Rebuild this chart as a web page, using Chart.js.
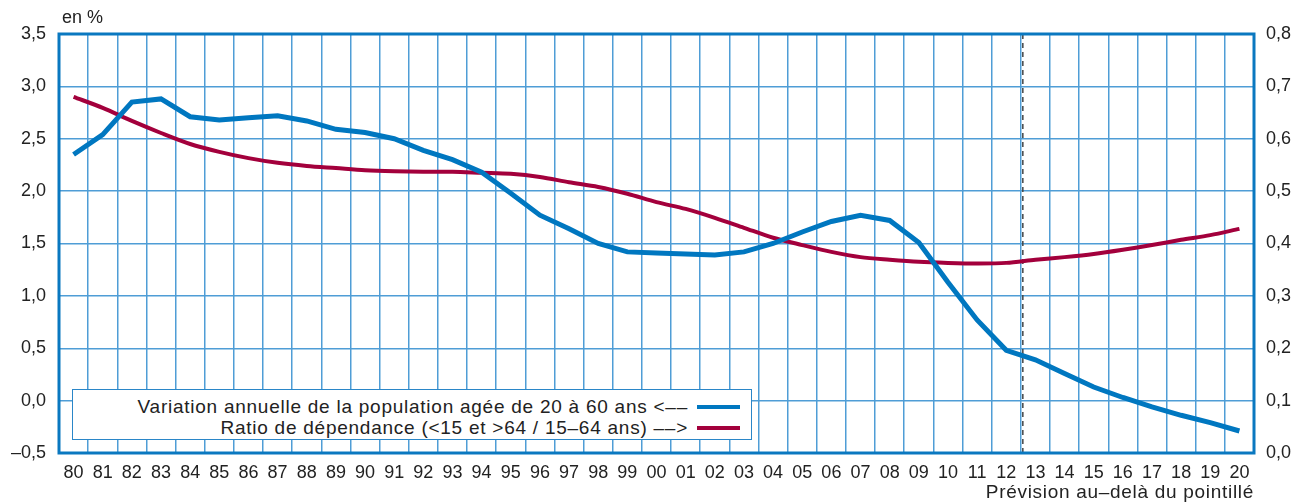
<!doctype html>
<html lang="fr">
  <head>
    <meta charset="utf-8">
    <title>Variation de la population et ratio de dépendance</title>
    <style>
      * { margin: 0; padding: 0; }
      body { background: white; font-family: "Liberation Sans", Arial, sans-serif; color: #222; }
      .wrap { position: relative; width: 1296px; height: 503px; }
      .unit { position: absolute; left: 62px; top: 7px; font-size: 18px; }
      .note { position: absolute; right: 42px; top: 481px; font-size: 19px; letter-spacing: 0.7px; }
      .legendBox {
        position: absolute; left: 72px; top: 389px; width: 678px; height: 49px;
        border: 1px solid #2a86c8; background: white;
        padding-top: 6px; box-sizing: content-box;
      }
      .legendBox .row { display: flex; justify-content: flex-end; align-items: center; height: 21px; font-size: 19px; letter-spacing: 0.75px; }
      .legendBox .swatch { width: 43px; height: 4px; margin-left: 9px; margin-right: 11px; }
    </style>
  </head>
  <body>
    <div class="wrap">
      <canvas id="myChart" width="1296" height="503"></canvas>
      <div class="unit">en %</div>
      <div class="legendBox" style="height:43px">
        <div class="row"><span>Variation annuelle de la population agée de 20 à 60 ans &lt;––</span><span class="swatch" style="background:#0077c0"></span></div>
        <div class="row"><span>Ratio de dépendance (&lt;15 et &gt;64 / 15–64 ans) ––&gt;</span><span class="swatch" style="background:#a3003c"></span></div>
      </div>
      <div class="note">Prévision au–delà du pointillé</div>
    </div>

    <script src="https://cdn.jsdelivr.net/npm/chart.js/dist/chart.umd.min.js"></script>
    <script>
    // data
    const years = ['80','81','82','83','84','85','86','87','88','89',
                   '90','91','92','93','94','95','96','97','98','99',
                   '00','01','02','03','04','05','06','07','08','09',
                   '10','11','12','13','14','15','16','17','18','19','20'];

    // variation annuelle de la population 20-60 ans, en % (axe gauche)
    const variation = [2.35, 2.54, 2.85, 2.88, 2.71, 2.68, 2.70, 2.72, 2.67, 2.59,
                       2.56, 2.50, 2.39, 2.30, 2.18, 1.98, 1.77, 1.64, 1.50, 1.42,
                       1.41, 1.40, 1.39, 1.42, 1.50, 1.61, 1.71, 1.77, 1.72, 1.51,
                       1.13, 0.77, 0.48, 0.39, 0.26, 0.13, 0.03, -0.06, -0.14, -0.21, -0.29];

    // ratio de dépendance (axe droit)
    const ratio = [0.680, 0.659, 0.634, 0.611, 0.590, 0.575, 0.563, 0.554, 0.548, 0.544,
                   0.540, 0.538, 0.537, 0.537, 0.535, 0.533, 0.527, 0.517, 0.508, 0.495,
                   0.479, 0.466, 0.449, 0.430, 0.411, 0.397, 0.384, 0.374, 0.369, 0.365,
                   0.363, 0.362, 0.363, 0.369, 0.374, 0.380, 0.388, 0.397, 0.407, 0.416, 0.428];

    const forecastAfter = '12';

    const BLUE = '#0077c0';
    const RED = '#a3003c';
    const GRID = '#4f9dd6';
    const FONT = '"Liberation Sans", Arial, sans-serif';

    const fmt = v => {
      const s = Math.abs(v).toFixed(1).replace('.', ',');
      return v < -0.001 ? '–' + s : s;
    };

    // frame + dashed forecast line
    const frame = {
      id: 'frame',
      beforeDatasetsDraw(chart) {
        const { ctx, chartArea: a, scales } = chart;
        const i = years.indexOf(forecastAfter);
        const x = (scales.x.getPixelForValue(i) + scales.x.getPixelForValue(i + 1)) / 2 + 2;
        ctx.save();
        ctx.strokeStyle = '#444';
        ctx.lineWidth = 1.5;
        ctx.setLineDash([5, 4]);
        ctx.beginPath();
        ctx.moveTo(x, a.top);
        ctx.lineTo(x, a.bottom);
        ctx.stroke();
        ctx.setLineDash([]);
        ctx.strokeStyle = '#0a78c0';
        ctx.lineWidth = 3;
        ctx.strokeRect(a.left, a.top, a.right - a.left, a.bottom - a.top);
        ctx.restore();
      }
    };

    const config = {
      type: 'line',
      data: {
        labels: years,
        datasets: [{
          label: 'Variation annuelle de la population agée de 20 à 60 ans',
          data: variation,
          borderColor: BLUE,
          borderWidth: 5,
          pointRadius: 0,
          tension: 0,
          yAxisID: 'y'
        }, {
          label: 'Ratio de dépendance (<15 et >64 / 15–64 ans)',
          data: ratio,
          borderColor: RED,
          borderWidth: 4,
          pointRadius: 0,
          tension: 0.3,
          yAxisID: 'y1'
        }]
      },
      options: {
        responsive: false,
        animation: false,
        devicePixelRatio: 1,
        layout: { padding: { top: 34 } },
        plugins: { legend: { display: false }, tooltip: { enabled: false } },
        scales: {
          x: {
            offset: true,
            grid: { offset: true, color: GRID, lineWidth: 1.5, drawTicks: false },
            border: { display: false },
            ticks: { color: '#222', font: { size: 18, family: FONT }, padding: 9, maxRotation: 0, autoSkip: false },
            afterFit: s => { s.height = 50; }
          },
          y: {
            position: 'left',
            min: -0.5, max: 3.5,
            grid: { color: GRID, lineWidth: 1.5, drawTicks: false },
            border: { display: false },
            ticks: { stepSize: 0.5, color: '#222', font: { size: 18, family: FONT }, padding: 13, callback: fmt },
            afterFit: s => { s.width = 59; }
          },
          y1: {
            position: 'right',
            min: 0, max: 0.8,
            grid: { display: false, drawTicks: false },
            border: { display: false },
            ticks: { stepSize: 0.1, color: '#222', font: { size: 18, family: FONT }, padding: 12, callback: fmt },
            afterFit: s => { s.width = 42; }
          }
        }
      },
      plugins: [frame]
    };

    const myChart = new Chart(document.getElementById('myChart'), config);
    </script>
  </body>
</html>
